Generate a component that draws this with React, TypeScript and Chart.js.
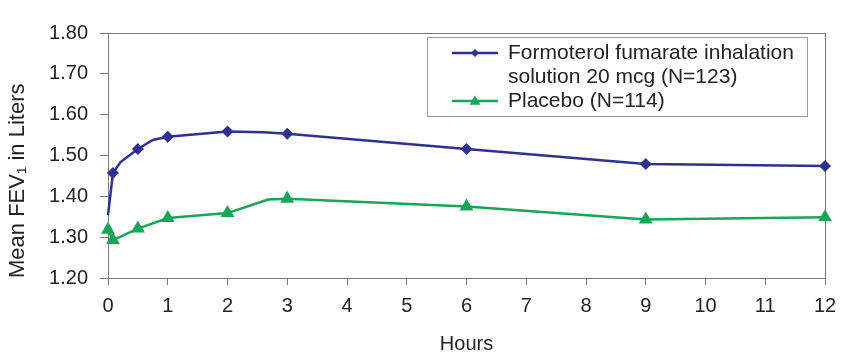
import React, { useEffect, useRef } from "react";
import { Chart, registerables } from "chart.js";

Chart.register(...registerables);

// ---- data ----
const hours = [0, 0.083, 0.5, 1, 2, 3, 6, 9, 12];
const formoterol = [1.354, 1.457, 1.516, 1.546, 1.559, 1.553, 1.516, 1.479, 1.474];
const placebo = [1.318, 1.293, 1.321, 1.347, 1.359, 1.394, 1.375, 1.343, 1.349];
// unmarked bends of the drawn curves
const formoterolBendHours = [0.21, 0.75, 2.6];
const formoterolBendValues = [1.484, 1.538, 1.557];
const placeboBendHours = [2.68];
const placeboBendValues = [1.392];

const formoterolLegend = ["Formoterol fumarate inhalation", "solution 20 mcg (N=123)"];
const placeboLegend = ["Placebo (N=114)"];
const xMin = 0;
const xMax = 12;
const xStep = 1;
const yMin = 1.2;
const yMax = 1.8;
const yStep = 0.1;
const xTitle = "Hours";
const yTitle = "Mean FEV\u2081 in Liters";

const FONT = "'Liberation Sans', Arial, Helvetica, sans-serif";
const BLUE = "#2e3192";
const GREEN = "#17a557";
const AXIS = "#7a7a7a";

function path(hs: number[], vs: number[], bh: number[], bv: number[]) {
  const pts = hs.map((h, i) => ({ x: h, y: vs[i] })).concat(bh.map((h, i) => ({ x: h, y: bv[i] })));
  return pts.sort((a, b) => a.x - b.x);
}

const framePlugin = {
  id: "frame",
  beforeDatasetsDraw(chart: any) {
    const { ctx, chartArea } = chart;
    ctx.save();
    ctx.strokeStyle = AXIS;
    ctx.lineWidth = 1;
    ctx.beginPath();
    ctx.moveTo(chartArea.left, chartArea.top + 0.5);
    ctx.lineTo(chartArea.right + 0.5, chartArea.top + 0.5);
    ctx.lineTo(chartArea.right + 0.5, chartArea.bottom);
    ctx.stroke();
    ctx.restore();
  },
};

const legendPlugin = {
  id: "boxLegend",
  afterDatasetsDraw(chart: any) {
    const { ctx, chartArea } = chart;
    const boxW = 380;
    const boxH = 79;
    const x0 = chartArea.right - 18 - boxW;
    const y0 = chartArea.top + 4;
    ctx.save();
    ctx.fillStyle = "#ffffff";
    ctx.fillRect(x0, y0, boxW, boxH);
    ctx.strokeStyle = "#9a9a9a";
    ctx.lineWidth = 1;
    ctx.strokeRect(Math.round(x0) + 0.5, Math.round(y0) + 0.5, boxW, boxH);

    const entries = [
      { lines: formoterolLegend, color: BLUE, tri: false },
      { lines: placeboLegend, color: GREEN, tri: true },
    ];
    const lineH = 24;
    let y = y0 + 16;
    ctx.font = `21px ${FONT}`;
    ctx.textBaseline = "middle";
    ctx.textAlign = "left";
    for (const e of entries) {
      ctx.strokeStyle = e.color;
      ctx.lineWidth = 2.5;
      ctx.beginPath();
      ctx.moveTo(x0 + 25, y);
      ctx.lineTo(x0 + 71, y);
      ctx.stroke();
      ctx.fillStyle = e.color;
      ctx.beginPath();
      if (e.tri) {
        const r = 5.5;
        ctx.moveTo(x0 + 48, y - r);
        ctx.lineTo(x0 + 48 + r, y + r * 0.7);
        ctx.lineTo(x0 + 48 - r, y + r * 0.7);
      } else {
        const r = 4;
        ctx.moveTo(x0 + 48, y - r);
        ctx.lineTo(x0 + 48 + r, y);
        ctx.lineTo(x0 + 48, y + r);
        ctx.lineTo(x0 + 48 - r, y);
      }
      ctx.closePath();
      ctx.fill();
      ctx.fillStyle = "#222";
      for (const t of e.lines) {
        ctx.fillText(t, x0 + 81, y);
        y += lineH;
      }
    }
    ctx.restore();
  },
};

export default function App() {
  const ref = useRef<HTMLCanvasElement | null>(null);
  useEffect(() => {
    if (!ref.current) return;
    const chart = new Chart(ref.current, {
      type: "line",
      data: {
        datasets: [
          {
            label: formoterolLegend.join(" "),
            data: path(hours, formoterol, formoterolBendHours, formoterolBendValues),
            borderColor: BLUE,
            borderWidth: 2.5,
            pointRadius: 0,
            tension: 0,
            clip: false,
          } as any,
          {
            label: placeboLegend.join(" "),
            data: path(hours, placebo, placeboBendHours, placeboBendValues),
            borderColor: GREEN,
            borderWidth: 2.5,
            pointRadius: 0,
            tension: 0,
            clip: false,
          } as any,
          {
            label: "formoterol markers",
            data: hours.map((h, i) => ({ x: h, y: formoterol[i] })),
            showLine: false,
            backgroundColor: BLUE,
            borderColor: BLUE,
            pointStyle: "rectRot",
            pointRadius: (c: any) => (c.dataIndex === 0 ? 0 : 6),
            pointBorderWidth: 0,
            clip: false,
          } as any,
          {
            label: "placebo markers",
            data: hours.map((h, i) => ({ x: h, y: placebo[i] })),
            showLine: false,
            backgroundColor: GREEN,
            borderColor: GREEN,
            pointStyle: "triangle",
            pointRadius: 8,
            pointBorderWidth: 0,
            clip: false,
          } as any,
        ],
      },
      options: {
        animation: false,
        responsive: false,
        maintainAspectRatio: false,
        layout: { padding: { top: 33, right: 27, left: 0, bottom: 0 } },
        plugins: {
          legend: { display: false },
          tooltip: { enabled: false },
        },
        scales: {
          x: {
            type: "linear",
            min: xMin,
            max: xMax,
            afterFit: (s: any) => {
              s.height = 80;
            },
            ticks: {
              stepSize: xStep,
              color: "#222",
              font: { family: FONT, size: 20 },
              padding: 9,
              maxRotation: 0,
            },
            grid: {
              drawOnChartArea: false,
              drawTicks: true,
              tickLength: 7,
              color: AXIS,
            },
            border: { display: true, color: AXIS, width: 1 },
            title: {
              display: true,
              text: xTitle,
              color: "#222",
              font: { family: FONT, size: 20 },
              padding: { top: 0, bottom: 2 },
            },
          },
          y: {
            type: "linear",
            min: yMin,
            max: yMax,
            afterFit: (s: any) => {
              s.width = 108;
            },
            ticks: {
              stepSize: yStep,
              color: "#222",
              font: { family: FONT, size: 20 },
              padding: 12,
              callback: (v: any) => Number(v).toFixed(2),
            },
            grid: {
              drawOnChartArea: false,
              drawTicks: true,
              tickLength: 8,
              color: AXIS,
            },
            border: { display: true, color: AXIS, width: 1 },
            title: {
              display: true,
              text: yTitle,
              color: "#222",
              font: { family: FONT, size: 22 },
              padding: { top: 5, bottom: 0 },
              align: "start",
            },
          },
        },
      },
      plugins: [framePlugin, legendPlugin],
    });
    return () => chart.destroy();
  }, []);
  return (
    <div style={{ position: "fixed", left: 0, top: 0, width: 852, height: 358, background: "#fff" }}>
      <canvas ref={ref} width={852} height={358} style={{ width: 852, height: 358, display: "block" }} />
    </div>
  );
}
